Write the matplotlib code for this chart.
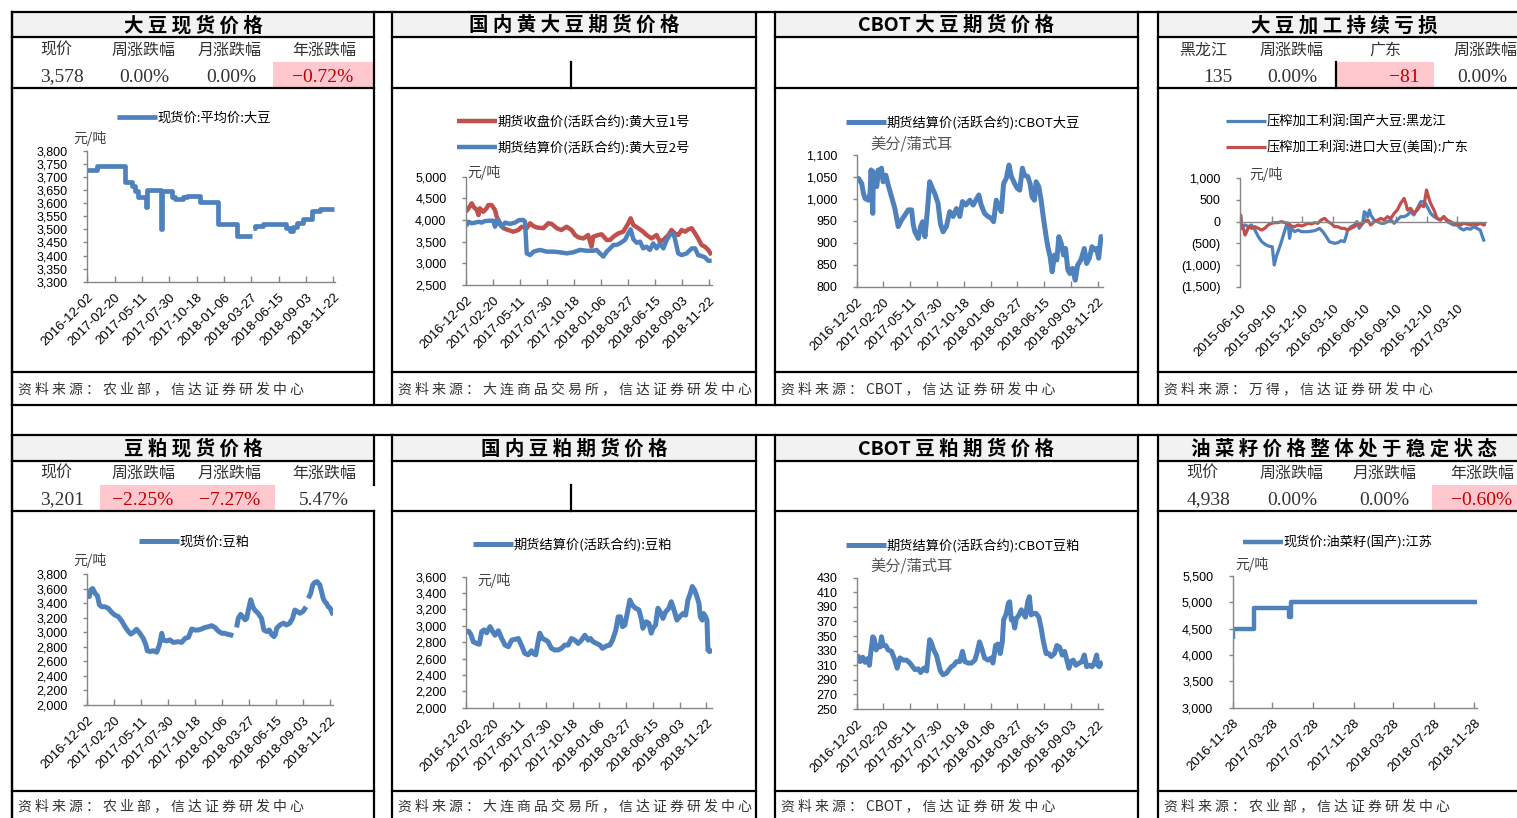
import numpy as np
import pandas as pd
import matplotlib
matplotlib.use('Agg')
import matplotlib.pyplot as plt
import matplotlib.ticker as ticker
from matplotlib.lines import Line2D
from matplotlib.patches import Rectangle

plt.rcParams['font.family'] = ['Noto Sans CJK SC', 'DejaVu Sans']

nan = np.nan
BLUE = '#4F81BD'
RED = '#C0504D'
PINK = '#FFC7CE'
RED_TXT = '#C00000'

# ---------------- 数据 (x 为距起始日的天数) ----------------
main_base = '2016-12-02'
main_ticks = pd.date_range('2016-12-02', periods=10, freq='80D')

# 大豆现货价格
soy_spot_day = [0, 27, 110, 130, 140, 149, 173, 176, 216, 219, 247, 257, 281, 291, 330,
                383, 437, 481, 486, 492, 515, 583, 593, 603, 613, 632, 657, 681, 723]
soy_spot_val = [3725, 3740, 3680, 3665, 3645, 3625, 3585, 3650, 3500, 3645, 3625, 3615, 3625, 3628, 3605,
                3520, 3475, nan, 3505, 3512, 3520, 3505, 3492, 3510, 3525, 3540, 3570, 3578, 3578]

# 国内黄大豆期货
dce_a1_day = [0, 7, 17, 22, 32, 37, 41, 51, 61, 66, 76, 86, 91, 101, 111, 125, 140, 155, 165, 180,
              190, 200, 209, 229, 244, 254, 269, 283, 298, 313, 323, 333, 348, 362, 372, 377, 392, 402, 417, 427,
              437, 451, 466, 481, 488, 496, 511, 525, 535, 550, 565, 575, 585, 600, 609, 619, 629, 639, 649, 659,
              669, 679, 688, 698, 708, 718, 728]
dce_a1_val = [4190, 4270, 4385, 4310, 4230, 4115, 4270, 4190, 4270, 4345, 4345, 4230, 4075, 3925, 3810, 3770, 3730, 3770, 3845, 3810,
              3925, 3860, 3830, 3810, 3925, 3910, 3810, 3770, 3845, 3770, 3655, 3600, 3575, 3655, 3385, 3615, 3655, 3670, 3540, 3540,
              3615, 3690, 3730, 3925, 4040, 3885, 3810, 3730, 3655, 3575, 3655, 3500, 3540, 3655, 3770, 3690, 3655, 3770, 3730, 3785,
              3810, 3690, 3575, 3425, 3385, 3310, 3190]
dce_a2_day = [0, 7, 17, 27, 37, 46, 56, 71, 81, 86, 93, 99, 106, 116, 130, 145, 158, 170, 175, 180,
              190, 200, 219, 239, 259, 279, 298, 318, 338, 358, 377, 387, 397, 407, 417, 427, 437, 446, 456, 471,
              481, 488, 496, 506, 516, 525, 535, 545, 555, 565, 575, 585, 595, 604, 614, 619, 629, 639, 654, 669,
              679, 688, 698, 708, 718, 728]
dce_a2_val = [3860, 3960, 3925, 3940, 3960, 3940, 3975, 3985, 3985, 3845, 4015, 3910, 3845, 3940, 3910, 3940, 4000, 4000, 3960, 3230,
              3190, 3270, 3310, 3270, 3270, 3255, 3230, 3255, 3310, 3290, 3290, 3310, 3230, 3155, 3270, 3345, 3425, 3425, 3460, 3540,
              3690, 3785, 3555, 3475, 3500, 3345, 3385, 3310, 3460, 3345, 3460, 3345, 3540, 3655, 3690, 3575, 3230, 3190, 3230, 3345,
              3345, 3190, 3170, 3140, 3060, 3060]

# CBOT大豆
cbot_soy_day = [0, 5, 15, 20, 25, 35, 40, 43, 48, 50, 55, 60, 65, 70, 74, 79, 87, 94, 104, 114,
                124, 134, 144, 154, 164, 169, 174, 184, 191, 197, 204, 211, 218, 226, 233, 243, 250, 258, 268, 278,
                288, 298, 308, 316, 326, 338, 348, 356, 365, 372, 382, 392, 402, 409, 417, 425, 432, 439, 447, 455,
                462, 472, 480, 487, 495, 501, 511, 518, 524, 531, 536, 544, 551, 558, 566, 571, 578, 584, 591, 598,
                604, 611, 618, 624, 631, 637, 645, 653, 660, 670, 680, 687, 695, 703, 710, 717, 723, 730, 735]
cbot_soy_val = [1043, 1047, 1035, 1013, 1001, 997, 1013, 1066, 967, 1062, 1035, 1028, 1066, 1051, 1070, 1039, 1054, 1032, 1005, 978,
                937, 952, 963, 975, 975, 941, 925, 910, 937, 948, 914, 971, 1039, 1024, 1013, 990, 944, 925, 937, 971,
                960, 978, 960, 994, 986, 997, 986, 997, 1009, 986, 967, 960, 956, 948, 997, 982, 971, 1035, 1047, 1077,
                1051, 1035, 1024, 1020, 1070, 1054, 1051, 1035, 1005, 997, 1039, 1028, 997, 956, 914, 891, 868, 834, 872, 861,
                914, 899, 872, 887, 838, 830, 842, 815, 849, 861, 887, 853, 865, 891, 884, 887, 865, 914, 914]

# 压榨利润 (起始日 2015-06-10)
crush_base = '2015-06-10'
crush_ticks = ['2015-06-10', '2015-09-10', '2015-12-10', '2016-03-10',
               '2016-06-10', '2016-09-10', '2016-12-10', '2017-03-10']
hlj_day = [0, 4, 14, 24, 33, 43, 53, 63, 72, 82, 92, 94, 100, 106, 121, 136, 141, 145, 150, 160,
           170, 180, 199, 219, 233, 243, 253, 262, 277, 287, 297, 306, 311, 316, 326, 336, 343, 350, 360, 365,
           370, 375, 380, 384, 394, 404, 414, 423, 433, 443, 453, 462, 472, 482, 492, 501, 511, 521, 531, 540,
           545, 550, 560, 570, 579, 589, 599, 609, 618, 628, 638, 648, 657, 667, 677, 687, 696, 706, 711, 718]
hlj_val = [-154, -115, -77, -115, -77, -192, -346, -461, -515, -561, -577, -577, -1000, -807, -461, -77, -38, -385, -154, -231,
           -192, -231, -231, -208, -154, -231, -346, -461, -500, -485, -438, -461, -346, -192, -115, -77, 0, -154, -38, 231,
           192, 115, 269, 154, 38, 0, -38, -38, 0, 38, -38, 38, 115, 115, 154, 231, 154, 308, 461, 461,
           423, 346, 192, 115, 77, 38, 115, 0, -38, -77, -77, -154, -192, -154, -177, -115, -154, -192, -308, -461]
gd_day = [0, 1, 4, 9, 14, 19, 24, 33, 43, 53, 63, 72, 82, 92, 101, 111, 121, 131, 141, 150,
          160, 170, 180, 189, 199, 209, 219, 228, 238, 248, 258, 267, 277, 287, 297, 306, 316, 326, 336, 345,
          355, 365, 375, 384, 394, 404, 414, 423, 433, 443, 453, 462, 472, 482, 487, 492, 501, 511, 521, 531,
          540, 548, 555, 560, 570, 579, 589, 599, 609, 618, 628, 638, 648, 657, 667, 677, 687, 696, 706, 716, 724]
gd_val = [-192, 154, -77, -154, -308, -231, -115, -154, -115, -154, -192, -154, -77, -38, -23, -23, 0, -23, -38, -100,
          -115, -77, -100, -77, -38, -54, -23, -38, 38, 77, 0, -38, -115, -115, -154, -154, -192, -154, -115, -38,
          -77, 0, 38, -77, 0, 38, 77, 38, 115, 77, 192, 269, 423, 538, 423, 269, 308, 192, 269, 385,
          346, 731, 538, 423, 269, 77, 38, 115, 38, 0, -38, -38, -77, -38, -54, -77, -38, -77, -38, -77, -54]

# 豆粕现货
meal_spot_day = [0, 6, 10, 16, 23, 30, 36, 43, 52, 62, 72, 82, 92, 102, 112, 122, 129, 136, 146, 156,
                 166, 174, 178, 186, 196, 206, 214, 221, 225, 235, 245, 255, 270, 280, 290, 300, 310, 319, 329, 339,
                 349, 359, 369, 379, 389, 399, 408, 418, 428, 433, 438, 443, 448, 455, 461, 468, 473, 478, 485, 491,
                 497, 507, 517, 524, 532, 540, 547, 554, 558, 562, 572, 582, 591, 601, 609, 616, 623, 631, 641, 649,
                 653, 656, 663, 669, 675, 682, 690, 695, 700, 705, 710, 715, 720, 725, 730]
meal_spot_val = [3535, 3490, 3580, 3600, 3535, 3500, 3375, 3350, 3350, 3330, 3275, 3235, 3215, 3155, 3075, 3010, 2975, 2995, 3040, 2985,
                 2915, 2825, 2745, 2735, 2745, 2725, 2825, 2985, 2895, 2880, 2895, 2860, 2870, 2860, 2915, 2930, 3045, 3030, 3030, 3045,
                 3065, 3075, 3090, 3065, 3015, 2985, 2985, 2970, 2960, 2950, nan, 3065, 3190, 3245, 3215, 3170, 3190, 3305, 3445, 3350,
                 3305, 3260, 3190, 3030, 3010, 3030, 2970, 2940, 2970, 3055, 3100, 3125, 3100, 3125, 3190, 3305, 3285, 3260, 3290, 3350,
                 nan, 3465, 3535, 3650, 3685, 3695, 3650, 3560, 3465, 3420, 3395, 3350, 3335, 3285, 3235]

# 国内豆粕期货
dce_m_day = [0, 7, 14, 22, 32, 40, 47, 54, 62, 72, 80, 87, 97, 107, 117, 127, 137, 147, 157, 166,
             176, 186, 196, 201, 209, 216, 221, 229, 239, 246, 256, 266, 276, 286, 296, 306, 316, 326, 336, 346,
             356, 366, 373, 381, 391, 401, 409, 421, 431, 439, 449, 456, 463, 469, 476, 483, 491, 498, 508, 518,
             525, 530, 540, 548, 555, 560, 568, 575, 582, 590, 598, 608, 615, 620, 625, 632, 640, 650, 658, 665,
             672, 678, 685, 692, 698, 702, 708, 712, 718, 722, 725, 730, 738]
dce_m_val = [2930, 2935, 2900, 2805, 2785, 2775, 2930, 2950, 2915, 2990, 2930, 2885, 2940, 2845, 2765, 2745, 2825, 2835, 2845, 2765,
             2665, 2645, 2695, 2665, 2645, 2805, 2910, 2845, 2825, 2805, 2725, 2705, 2705, 2725, 2765, 2765, 2845, 2825, 2785, 2825,
             2885, 2825, 2845, 2805, 2785, 2765, 2725, 2755, 2765, 2825, 2950, 3110, 3110, 2990, 3010, 3150, 3315, 3255, 3215, 3195,
             3090, 2970, 3050, 3030, 2910, 2970, 3010, 3215, 3170, 3090, 3170, 3215, 3295, 3235, 3170, 3070, 3110, 3150, 3130, 3315,
             3395, 3480, 3435, 3355, 3275, 3110, 3070, 3150, 3110, 3070, 2705, 2685, 2710]

# CBOT豆粕
cbot_meal_day = [0, 5, 10, 18, 25, 32, 38, 43, 48, 52, 58, 65, 70, 74, 79, 87, 94, 104, 114, 121,
                 129, 139, 149, 159, 167, 174, 184, 191, 201, 209, 213, 218, 223, 230, 238, 243, 250, 258, 268, 276,
                 283, 290, 298, 308, 316, 323, 333, 343, 353, 359, 367, 375, 382, 392, 402, 407, 415, 422, 429, 435,
                 439, 447, 453, 457, 462, 467, 472, 477, 485, 492, 498, 504, 511, 516, 521, 528, 536, 544, 551, 558,
                 566, 574, 581, 591, 598, 606, 614, 621, 628, 634, 640, 647, 655, 665, 673, 680, 687, 695, 703, 710,
                 717, 720, 725, 730, 735]
cbot_meal_val = [317, 322, 315, 321, 314, 319, 310, 331, 349, 347, 331, 337, 335, 349, 337, 337, 331, 329, 317, 306,
                 320, 317, 317, 313, 308, 304, 305, 300, 306, 302, 322, 345, 341, 331, 324, 315, 302, 297, 299, 304,
                 308, 310, 315, 315, 329, 315, 313, 313, 317, 326, 342, 331, 320, 317, 320, 313, 337, 339, 326, 342,
                 372, 381, 395, 397, 372, 374, 361, 374, 379, 386, 381, 376, 397, 404, 379, 381, 381, 376, 361, 342,
                 326, 326, 322, 326, 337, 335, 324, 329, 317, 306, 315, 317, 310, 313, 315, 324, 308, 310, 308, 313,
                 324, 310, 308, 313, 314]

# 油菜籽现货 (起始日 2016-11-28), 阶梯
rape_base = '2016-11-28'
rape_ticks = ['2016-11-28', '2017-03-28', '2017-07-28', '2017-11-28',
              '2018-03-28', '2018-07-28', '2018-11-28']
rape_day = [0, 2, 65, 169, 177, 738]
rape_val = [4300, 4500, 4900, 4730, 5000, 5000]

# 表头与数值
p1_heads = ['现价', '周涨跌幅', '月涨跌幅', '年涨跌幅']
p1_vals = ['3,578', '0.00%', '0.00%', '−0.72%']
p1_hl = [False, False, False, True]
p4_heads = ['黑龙江', '周涨跌幅', '广东', '周涨跌幅']
p4_vals = ['135', '0.00%', '−81', '0.00%']
p4_hl = [False, False, True, False]
p5_heads = ['现价', '周涨跌幅', '月涨跌幅', '年涨跌幅']
p5_vals = ['3,201', '−2.25%', '−7.27%', '5.47%']
p5_hl = [False, True, True, False]
p8_heads = ['现价', '周涨跌幅', '月涨跌幅', '年涨跌幅']
p8_vals = ['4,938', '0.00%', '0.00%', '−0.60%']
p8_hl = [False, False, False, True]

# ---------------- 画布 ----------------
W, H = 1517, 818
fig = plt.figure(figsize=(W / 100, H / 100), dpi=100)


def fx(x):
    return x / W


def fy(y):
    return 1 - y / H


def line(x0, y0, x1, y1, lw=1.6, color='black'):
    fig.add_artist(Line2D([fx(x0), fx(x1)], [fy(y0), fy(y1)], transform=fig.transFigure,
                          lw=lw, color=color, solid_capstyle='projecting'))


def fill(x0, y0, x1, y1, color):
    fig.add_artist(Rectangle((fx(x0), fy(y1)), fx(x1) - fx(x0), fy(y0) - fy(y1),
                             transform=fig.transFigure, facecolor=color, edgecolor='none', zorder=0))


def spaced(s):
    out = s[0]
    for a, b in zip(s, s[1:]):
        if not (a.isascii() and b.isascii()):
            out += ' '
        out += b
    return out


def panel(x0, x1, ys, title, source, src_y, right_gap=None):
    top, t_bot, s_bot, c_bot, bot = ys
    fill(x0, top, x1, t_bot, '#F2F2F2')
    for y in (t_bot, s_bot, c_bot):
        line(x0, y, x1, y)
    line(x0, top, x0, bot)
    if right_gap:
        line(x1, top, x1, right_gap[0])
        line(x1, right_gap[1], x1, bot)
    else:
        line(x1, top, x1, bot)
    fig.text(fx((x0 + x1) / 2), fy((top + t_bot) / 2 + 1), spaced(title), ha='center', va='center',
             fontsize=14, fontweight='heavy', color='black')
    fig.text(fx(x0 + 6), fy(src_y), spaced(source), ha='left', va='center',
             fontsize=10, color='#333333', style='italic')


def stats(heads, head_x, vals, val_x, hl, y_head, y_val):
    for h, x in zip(heads, head_x):
        fig.text(fx(x), fy(y_head), h, ha='center', va='center', fontsize=11.5, color='#333333')
    for v, x, flag in zip(vals, val_x, hl):
        fig.text(fx(x), fy(y_val), v, ha='center', va='center', fontsize=14,
                 family=['Liberation Serif', 'DejaVu Serif'], color=RED_TXT if flag else '#333333')


def add_chart(box, base, end, tick_dates, yticks, series, leg_xy, unit, unit_xy,
              unit_size=10, unit_color='#404040', yfmt=None, steps=False, zero_axis=False):
    l, r, t, b = box
    ax = fig.add_axes([fx(l), fy(b), (r - l) / W, (b - t) / H])
    ax.patch.set_alpha(0)
    base = pd.Timestamp(base)
    handles = []
    for days, vals, color, lw, label in series:
        h, = ax.plot(days, vals, color=color, lw=lw, label=label,
                     drawstyle='steps-post' if steps else 'default',
                     solid_joinstyle='round', solid_capstyle='butt')
        handles.append(h)
    ax.set_xlim(0, end)
    ax.set_ylim(yticks[0], yticks[-1])
    ax.set_yticks(yticks)
    if yfmt is None:
        yfmt = lambda v, p: f'{v:,.0f}'
    ax.yaxis.set_major_formatter(ticker.FuncFormatter(yfmt))
    for s in ('top', 'right'):
        ax.spines[s].set_visible(False)
    for s in ('left', 'bottom'):
        ax.spines[s].set_color('#868686')
        ax.spines[s].set_linewidth(1.0)
    ax.tick_params(axis='y', direction='out', length=3, width=1.0, color='#868686', pad=11,
                   labelsize=9, labelfontfamily='Liberation Sans')
    ticks = [(pd.Timestamp(d) - base).days for d in tick_dates]
    dfmt = ticker.FuncFormatter(lambda v, p: (base + pd.Timedelta(days=round(v))).strftime('%Y-%m-%d'))
    ax.set_xticks(ticks)
    ax.tick_params(axis='x', direction='in', length=4, width=1.0, color='#868686', pad=7,
                   labelsize=9.5, labelfontfamily='Liberation Sans')
    lab_ax = ax
    if zero_axis:
        ax.spines['bottom'].set_position(('data', 0))
        ax.tick_params(axis='x', labelbottom=False)
        lab_ax = ax.secondary_xaxis('bottom')
        lab_ax.spines['bottom'].set_visible(False)
        lab_ax.set_xticks(ticks)
        lab_ax.tick_params(axis='x', length=0, pad=11, labelsize=9.5, labelfontfamily='Liberation Sans')
    lab_ax.xaxis.set_major_formatter(dfmt)
    plt.setp(lab_ax.get_xticklabels(), rotation=45, ha='right', va='top', rotation_mode='anchor')
    ax.legend(handles=handles, loc='center left', bbox_to_anchor=(fx(leg_xy[0]), fy(leg_xy[1])),
              bbox_transform=fig.transFigure, frameon=False, fontsize=9.5, handlelength=3.0,
              handletextpad=0.1, borderpad=0, borderaxespad=0, labelspacing=0.9)
    fig.text(fx(unit_xy[0]), fy(unit_xy[1]), unit, ha='left', va='center',
             fontsize=unit_size, color=unit_color)
    return ax


# ---------------- 外框 ----------------
top_ys = (12, 37, 88, 372, 405)
bot_ys = (435, 461, 511, 791, 830)
line(12, 12, 1517, 12)
line(12, 405, 1517, 405)
line(12, 435, 1517, 435)
line(12, 12, 12, 818)

panel(12, 374, top_ys, '大豆现货价格', '资料来源：农业部，信达证券研发中心', 389)
panel(392, 756, top_ys, '国内黄大豆期货价格', '资料来源：大连商品交易所，信达证券研发中心', 389)
panel(775, 1138, top_ys, 'CBOT大豆期货价格', '资料来源：CBOT，信达证券研发中心', 389)
panel(1158, 1530, top_ys, '大豆加工持续亏损', '资料来源：万得，信达证券研发中心', 389)
panel(12, 374, bot_ys, '豆粕现货价格', '资料来源：农业部，信达证券研发中心', 806, right_gap=(485, 511))
panel(392, 756, bot_ys, '国内豆粕期货价格', '资料来源：大连商品交易所，信达证券研发中心', 806)
panel(775, 1138, bot_ys, 'CBOT豆粕期货价格', '资料来源：CBOT，信达证券研发中心', 806)
panel(1158, 1530, bot_ys, '油菜籽价格整体处于稳定状态', '资料来源：农业部，信达证券研发中心', 806)

# 表格高亮与分隔
fill(273, 62, 373, 87, PINK)
fill(1337, 62, 1434, 87, PINK)
fill(100, 485, 275, 510, PINK)
fill(1432, 485, 1517, 510, PINK)
line(571, 62, 571, 88)
line(571, 485, 571, 511)
line(1336, 62, 1336, 88)

stats(p1_heads, [56, 144, 230, 324], p1_vals, [62, 144, 231, 323], p1_hl, 50, 77)
stats(p4_heads, [1203, 1292, 1385, 1485], p4_vals, [1218, 1292, 1404, 1482], p4_hl, 50, 77)
stats(p5_heads, [56, 144, 230, 324], p5_vals, [62, 143, 230, 324], p5_hl, 473, 500)
stats(p8_heads, [1202, 1292, 1385, 1482], p8_vals, [1209, 1292, 1384, 1482], p8_hl, 473, 500)

# ---------------- 图表 ----------------
add_chart((87.3, 334.5, 150.7, 281.7), main_base, 724, main_ticks, np.arange(3300, 3801, 50),
          [(soy_spot_day, soy_spot_val, BLUE, 3.4, '现货价:平均价:大豆')],
          (117, 118), '元/吨', (73, 138), steps=True)

add_chart((466, 712.3, 176.7, 285), main_base, 730, main_ticks, np.arange(2500, 5001, 500),
          [(dce_a1_day, dce_a1_val, RED, 3.2, '期货收盘价(活跃合约):黄大豆1号'),
           (dce_a2_day, dce_a2_val, BLUE, 3.2, '期货结算价(活跃合约):黄大豆2号')],
          (457, 134.5), '元/吨', (467, 173))

add_chart((856.7, 1102.7, 155, 286.7), main_base, 735, main_ticks, np.arange(800, 1101, 50),
          [(cbot_soy_day, cbot_soy_val, BLUE, 3.6, '期货结算价(活跃合约):CBOT大豆')],
          (846, 123), '美分/蒲式耳', (870, 144), unit_size=11, unit_color='#595959')

add_chart((1240.3, 1486.3, 178.3, 286.7), crush_base, 724, crush_ticks, np.arange(-1500, 1001, 500),
          [(hlj_day, hlj_val, BLUE, 2.3, '压榨加工利润:国产大豆:黑龙江'),
           (gd_day, gd_val, RED, 2.3, '压榨加工利润:进口大豆(美国):广东')],
          (1226, 135), '元/吨', (1249, 175),
          yfmt=lambda v, p: f'({abs(v):,.0f})' if v < 0 else f'{v:,.0f}', zero_axis=True)

add_chart((87.3, 333.3, 574, 705), main_base, 730, main_ticks, np.arange(2000, 3801, 200),
          [(meal_spot_day, meal_spot_val, BLUE, 3.6, '现货价:豆粕')],
          (139, 542), '元/吨', (73, 560))

add_chart((466, 712.3, 576.7, 707.7), main_base, 738, main_ticks, np.arange(2000, 3601, 200),
          [(dce_m_day, dce_m_val, BLUE, 3.6, '期货结算价(活跃合约):豆粕')],
          (473, 545), '元/吨', (477, 581))

add_chart((856.7, 1102.7, 577.7, 709), main_base, 735, main_ticks, np.arange(250, 431, 20),
          [(cbot_meal_day, cbot_meal_val, BLUE, 3.6, '期货结算价(活跃合约):CBOT豆粕')],
          (846, 546), '美分/蒲式耳', (870, 566), unit_size=11, unit_color='#595959')

add_chart((1232.7, 1477, 576, 707.7), rape_base, 738, rape_ticks, np.arange(3000, 5501, 500),
          [(rape_day, rape_val, BLUE, 3.2, '现货价:油菜籽(国产):江苏')],
          (1243, 543), '元/吨', (1235, 564), steps=True)

fig.savefig('out.png', dpi=100)
